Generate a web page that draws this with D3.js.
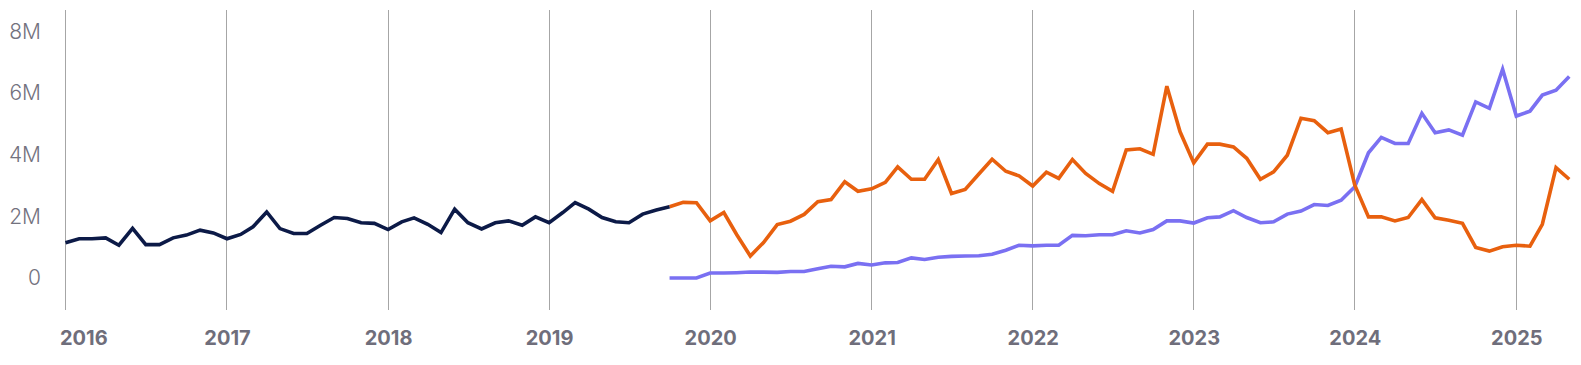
<!DOCTYPE html>
<html>
<head>
<meta charset="utf-8">
<script src="https://cdn.jsdelivr.net/npm/d3@7"></script>
<style>
  html, body { margin: 0; padding: 0; background: #ffffff; }
  svg { display: block; }
  text { font-family: Inter, "Open Sans", sans-serif; }
</style>
</head>
<body>
<svg id="chart" width="1581" height="365"></svg>
<script>
// ---- data (values in millions) ----
const yearTicks = ["2016","2017","2018","2019","2020","2021","2022","2023","2024","2025"];
const yTickValues = [0, 2, 4, 6, 8];
const yTickLabels = ["0", "2M", "4M", "6M", "8M"];

const darkStart = "2016-01";
const darkValues = [
  1.15,1.28,1.28,1.31,1.07,1.62,1.09,1.09,1.31,1.40,1.56,1.47,
  1.28,1.42,1.67,2.15,1.61,1.45,1.45,1.72,1.97,1.94,1.80,1.78,
  1.58,1.83,1.96,1.75,1.48,2.24,1.80,1.60,1.80,1.86,1.72,1.99,
  1.80,2.13,2.45,2.24,1.97,1.83,1.80,2.08,2.21,2.32
];

const orangeStart = "2019-10";
const orangeValues = [
  2.32,2.46,2.45,
  1.86,2.13,1.42,0.72,1.16,1.74,1.85,2.07,2.48,2.55,3.13,2.82,
  2.90,3.11,3.61,3.21,3.21,3.85,2.75,2.88,3.38,3.86,3.47,3.32,
  2.99,3.44,3.24,3.85,3.40,3.07,2.82,4.16,4.20,4.02,6.23,4.75,
  3.74,4.35,4.35,4.26,3.89,3.21,3.45,3.99,5.19,5.11,4.72,4.84,
  3.02,1.99,1.99,1.86,1.97,2.55,1.96,1.88,1.78,1.00,0.88,1.02,
  1.07,1.04,1.75,3.59,3.21
];

const purpleStart = "2019-10";
const purpleValues = [
  0.01,0.01,0.01,
  0.17,0.17,0.18,0.20,0.20,0.19,0.22,0.22,0.31,0.39,0.37,0.48,
  0.43,0.50,0.51,0.66,0.61,0.68,0.71,0.72,0.73,0.78,0.91,1.07,
  1.05,1.07,1.07,1.39,1.38,1.41,1.41,1.54,1.47,1.58,1.86,1.86,
  1.79,1.96,1.99,2.19,1.97,1.80,1.83,2.08,2.18,2.39,2.36,2.53,
  2.97,4.07,4.57,4.37,4.37,5.35,4.72,4.81,4.64,5.72,5.51,6.78,
  5.26,5.42,5.94,6.10,6.54
];

const colors = { dark: "#0c1a47", orange: "#e8600e", purple: "#7a70f2" };

// ---- helpers ----
const parseMonth = d3.utcParse("%Y-%m");
function toSeries(start, values) {
  const s = parseMonth(start);
  return values.map((v, i) => ({ date: d3.utcMonth.offset(s, i), value: v * 1e6 }));
}

const svg = d3.select("#chart");

const x = d3.scaleUtc()
  .domain([new Date(Date.UTC(2016,0,1)), new Date(Date.UTC(2025,0,1))])
  .range([65.5, 1516.3]);

const y = d3.scaleLinear()
  .domain([-1.03e6, 8.7e6])
  .range([310, 10]);

const yearDates = yearTicks.map(t => new Date(Date.UTC(+t, 0, 1)));

// vertical gridlines
svg.append("g").selectAll("line")
  .data(yearDates)
  .join("line")
  .attr("x1", d => x(d)).attr("x2", d => x(d))
  .attr("y1", y.range()[1]).attr("y2", y.range()[0])
  .attr("stroke", "#a6a6a6")
  .attr("stroke-width", 1)
  .attr("shape-rendering", "crispEdges");

// x axis labels
const xAxis = d3.axisBottom(x)
  .tickValues(yearDates)
  .tickFormat((d, i) => yearTicks[i])
  .tickSize(0)
  .tickPadding(0);
const gx = svg.append("g").attr("transform", "translate(0,331)").call(xAxis);
gx.select(".domain").remove();
gx.selectAll("text")
  .attr("fill", "#6f6e7b")
  .attr("font-size", 20)
  .attr("font-weight", 700)
  .attr("dy", "0.71em");
// first label is shifted so that it sits right of the y labels
gx.selectAll(".tick").filter((d, i) => i === 0).select("text")
  .attr("text-anchor", "start").attr("x", -6);

// y axis labels
const yAxis = d3.axisLeft(y)
  .tickValues(yTickValues.map(v => v * 1e6))
  .tickFormat((d, i) => yTickLabels[i])
  .tickSize(0)
  .tickPadding(0);
const gy = svg.append("g").attr("transform", "translate(41,0)").call(yAxis);
gy.select(".domain").remove();
gy.selectAll("text")
  .attr("fill", "#73727e")
  .attr("font-size", 21)
  .attr("font-weight", 300);

// lines
const line = d3.line()
  .x(d => x(d.date))
  .y(d => y(d.value));

const series = [
  { data: toSeries(purpleStart, purpleValues), color: colors.purple },
  { data: toSeries(orangeStart, orangeValues), color: colors.orange },
  { data: toSeries(darkStart, darkValues), color: colors.dark }
];

svg.append("g").selectAll("path")
  .data(series)
  .join("path")
  .attr("d", d => line(d.data))
  .attr("fill", "none")
  .attr("stroke", d => d.color)
  .attr("stroke-width", 3.6)
  .attr("stroke-linejoin", "miter")
  .attr("stroke-linecap", "butt");
</script>
</body>
</html>
